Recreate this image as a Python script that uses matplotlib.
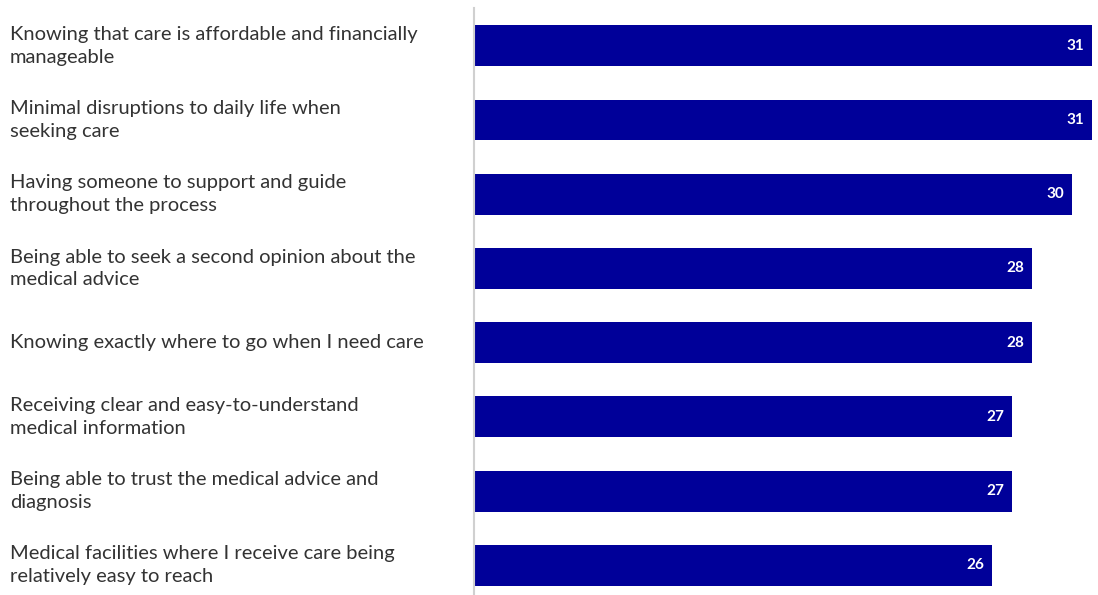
import matplotlib.pyplot as plt
import matplotlib.transforms as mtransforms

categories = [
    'Knowing that care is affordable and financially\nmanageable',
    'Minimal disruptions to daily life when\nseeking care',
    'Having someone to support and guide\nthroughout the process',
    'Being able to seek a second opinion about the\nmedical advice',
    'Knowing exactly where to go when I need care',
    'Receiving clear and easy-to-understand\nmedical information',
    'Being able to trust the medical advice and\ndiagnosis',
    'Medical facilities where I receive care being\nrelatively easy to reach',
]
values = [31, 31, 30, 28, 28, 27, 27, 26]

bar_color = '#000099'
text_color = '#333333'

plt.rcParams['font.family'] = ['Lato', 'DejaVu Sans']

fig = plt.figure(figsize=(10.98, 5.95), dpi=100)
ax = fig.add_axes([474 / 1098, 0, 624 / 1098, 587 / 595])

pos = list(range(len(values)))
ax.barh(pos, values, height=0.55, color=bar_color, zorder=2)
ax.set_xlim(0, 31.3)
ax.set_ylim(7.4, -0.51)

for y, v in zip(pos, values):
    ax.text(v - 0.4, y, str(v), ha='right', va='center', color='white',
            fontsize=11, fontweight='bold')

# category labels sit in the left margin, lined up with each bar
trans = mtransforms.blended_transform_factory(fig.transFigure, ax.transData)
for y, label in zip(pos, categories):
    ax.text(10 / 1098, y, label, transform=trans, ha='left', va='center',
            color=text_color, fontsize=14.5, linespacing=1.42)

for side in ['top', 'right', 'bottom']:
    ax.spines[side].set_visible(False)
ax.spines['left'].set_color('#d0d0d0')
ax.spines['left'].set_linewidth(1.5)
ax.set_xticks([])
ax.set_yticks([])

fig.savefig('out.png', dpi=100)
